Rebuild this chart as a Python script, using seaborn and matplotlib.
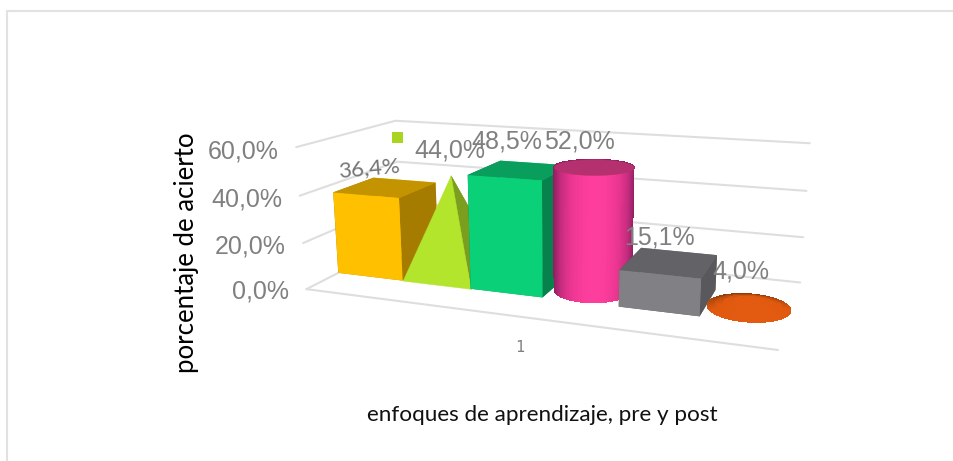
import numpy as np
import matplotlib
matplotlib.use('Agg')
import matplotlib.pyplot as plt
from matplotlib.lines import Line2D
import seaborn as sns
from mpl_toolkits.mplot3d import proj3d
from mpl_toolkits.mplot3d.art3d import Poly3DCollection

values = [36.4, 44.0, 48.5, 52.0, 15.1, 4.0]
ticks = [0, 20, 40, 60]
category = '1'
ylabel = 'porcentaje de acierto'
xlabel = 'enfoques de aprendizaje, pre y post'

sns.set_theme(style='white')
W, H = 954, 461
fig = plt.figure(figsize=(W/100, H/100), dpi=100)
# camera fitted on the grid corners of the original
AZIM = -69.951
ax = fig.add_axes([294.44/W, -17.19/H, 508.93/W, 508.93/H], projection='3d', computed_zorder=False)
ax.set_axis_off()
ax.patch.set_alpha(0)
ax.view_init(elev=14.171, azim=AZIM, roll=0.059)
ax.set_proj_type('persp', focal_length=0.33)
ax.set_box_aspect((1, 0.41, 0.311))
ax.set_xlim(0, 1); ax.set_ylim(0, 1); ax.set_zlim(0, 60)
ax.set_xticks([]); ax.set_yticks([]); ax.set_zticks([])
ax.set_autoscale_on(False)

def label3d(x, y, z, txt, **kw):
    # flat text at the projected place of a data point
    x2, y2, _ = proj3d.proj_transform(x, y, z, ax.get_proj())
    ax.text2D(x2, y2, txt, transform=ax.transData, va='center', zorder=100, **kw)

# back wall and floor
grid = '#dedede'
for z in ticks:
    ax.plot([0, 0, 1], [0, 1, 1], [z, z, z], color=grid, lw=1.5, zorder=0, clip_on=False)
    label3d(-0.045, 0, z - 2.2, f'{z:.1f}%'.replace('.', ','), ha='right', color='#808080',
            fontsize=18, family='Liberation Sans')
ax.plot([0, 1], [0, 0], [0, 0], color=grid, lw=1.5, zorder=0, clip_on=False)

n = len(values)
w = 1 / n
y0, y1 = 0.30, 0.72
ym = (y0 + y1) / 2
ry = (y1 - y0) / 2

def box(i, v, top, front, side, order):
    # bar3d face order: bottom, top, front, back, left, right
    c = ax.bar3d(i*w, y0, 0, w, y1-y0, v, color=[top, top, front, front, side, side], shade=False, zorder=order)
    c.set_linewidth(0)
    c.set_clip_on(False)

def poly(verts, color, order):
    c = Poly3DCollection(verts, facecolors=color, edgecolors=color, linewidths=0.3, zorder=order)
    ax.add_collection3d(c, autolim=False)
    c.set_clip_on(False)

def facing(theta):
    # 1 for the side that looks at the camera, 0 for the far side
    return (np.cos(theta - np.radians(AZIM)) + 1) / 2

# yellow cube
box(0, values[0], '#c49400', '#ffc000', '#a67c00', 10)

# lime pyramid
xa, xb = w, 2*w
xm = (xa + xb) / 2
apex = (xm, ym, values[1])
poly([[(xa, y1, 0), (xb, y1, 0), apex]], '#7b9e1e', 19)
poly([[(xb, y0, 0), (xb, y1, 0), apex]], '#7b9e1e', 20)
poly([[(xa, y0, 0), (xb, y0, 0), apex]], '#b2e52c', 21)

# green cube
box(2, values[2], '#0a9e5c', '#0ad077', '#08824c', 30)

# pink cylinder
theta = np.linspace(0, 2*np.pi, 181)
tmid = (theta[:-1] + theta[1:]) / 2
xc = 3.5 * w
pal = np.array(sns.blend_palette(['#8e1f60', '#c42c7e', '#e8358f', '#ff3e9e'], 60))
X = xc + w/2 * np.cos(theta)[None, :] * np.ones((2, 1))
Y = ym + ry * np.sin(theta)[None, :] * np.ones((2, 1))
ZZ = np.array([0, values[3]])[:, None] * np.ones((1, theta.size))
tone = np.clip((facing(tmid) - 0.5) * 2, 0, 1) ** 2
s = ax.plot_surface(X, Y, ZZ, facecolors=pal[(tone * 59).astype(int)][None, :, :], shade=False, rstride=1, cstride=1,
                    linewidth=0, antialiased=False, zorder=40)
s.set_clip_on(False)
poly([list(zip(xc + w/2*np.cos(theta), ym + ry*np.sin(theta), np.full(theta.size, values[3])))], '#b5306e', 41)

# gray cube
box(4, values[4], '#626267', '#808085', '#58585d', 50)

# orange cone, rim gets darker towards the back
xc = 5.5 * w
pal = np.array(sns.blend_palette(['#7e3406', '#b44a0c', '#e0590f', '#e25b10'], 60))
r = np.array([0, 0.35, 0.6, 0.8, 1.0])
X = xc + w/2 * np.outer(r, np.cos(theta))
Y = ym + ry * np.outer(r, np.sin(theta))
ZZ = values[5] * np.outer(1 - r, np.ones(theta.size))
rmid = (r[:-1] + r[1:]) / 2
tone = 1 - np.outer(rmid, 1 - facing(tmid))
s = ax.plot_surface(X, Y, ZZ, facecolors=pal[np.clip((tone * 59).astype(int), 0, 59)], shade=False, rstride=1, cstride=1,
                    linewidth=0, antialiased=False, zorder=60)
s.set_clip_on(False)

# data labels, shifted a bit like in the original
lab_dx = [-0.041, 0.0, -0.03, -0.033, -0.022, -0.02]
lab_dz = [8.1, 11, 11.5, 10, 10, 10.5]
for i, v in enumerate(values):
    txt = f'{v:.1f}%'.replace('.', ',')
    if i == 0:
        label3d((i+.5)*w + lab_dx[i], ym, v + lab_dz[i], txt, ha='center', color='#757575',
                fontsize=16, family='Lato', rotation=5)
    else:
        label3d((i+.5)*w + lab_dx[i], ym, v + lab_dz[i], txt, ha='center', color='#808080',
                fontsize=18, family='Liberation Sans')

# lime legend key and the outer frame
fig.add_artist(plt.Rectangle((392/W, 1-143/H), 11/W, 11/H, transform=fig.transFigure, color='#a9d41f', lw=0))
for xs, ys in [((7.5, 954), (11, 11)), ((7.5, 7.5), (11, 461))]:
    fig.add_artist(Line2D(np.array(xs)/W, 1-np.array(ys)/H, color='#e2e2e2', lw=1.5))

fig.text(520/W, 1-347/H, category, ha='center', va='center', color='#808080', fontsize=11, family='DejaVu Sans Mono')
fig.text(187/W, 1-252.5/H, ylabel, rotation=90, ha='center', va='center', color='black', fontsize=18.5, family='Lato')
fig.text(542/W, 1-415/H, xlabel, ha='center', va='center', color='#111111', fontsize=16.2, family='Lato')

fig.savefig('out.png', dpi=100)
